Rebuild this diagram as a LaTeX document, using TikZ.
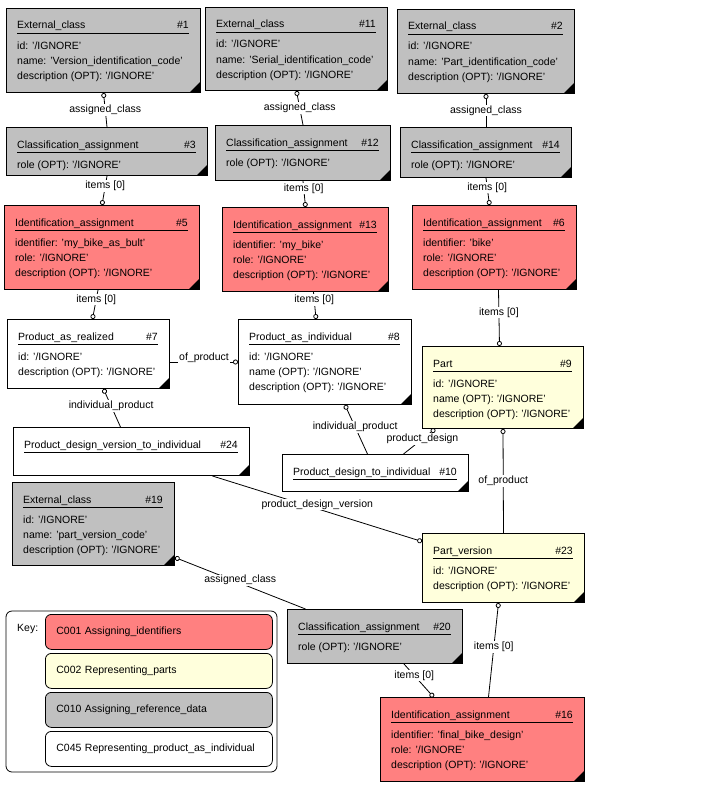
\documentclass[tikz,border=0pt]{standalone}
\usepackage{fontspec}
\setmainfont{Liberation Sans}
\usetikzlibrary{arrows.meta}
\definecolor{idred}{HTML}{FF8080}
\definecolor{partyel}{HTML}{FFFFDC}
\definecolor{refgray}{HTML}{C0C0C0}

% entity box: name, x, y, width, height, fill, title, number, attributes
\newcommand{\entity}[9]{%
  \node[ent, fill=#6, minimum width=#4pt, minimum height=#5pt] (#1) at (#2,#3) {};
  \node[anchor=base west] at ({#2+11},{#3+21}) {#7};
  \node[anchor=base east] at ({#2+#4-11},{#3+21}) {\##8};
  \draw[line width=0.9pt] ({#2+11},{#3+25}) -- ({#2+#4-11},{#3+25});
  \foreach \attr [count=\i from 0] in {#9}
    \node[anchor=base west] at ({#2+11},{#3+41+15.2*\i}) {\attr};
  \fill ({#2+#4},{#3+#5}) -- ++(-10,0) -- ++(10,-10) -- cycle;
}

\begin{document}
\begin{tikzpicture}[x=1pt,y=-1pt,
    every node/.style={font=\fontsize{10.5}{12}\selectfont, inner sep=0pt},
    ent/.style={draw, line width=1pt, anchor=north west},
    conn/.style={draw, line width=0.8pt, -{Circle[open,length=5pt,width=5pt]}},
    lbl/.style={fill=white, inner sep=0.8pt},
    keyent/.style={draw, line width=0.8pt, rounded corners=6pt, anchor=north west,
      minimum height=35pt, text width=205pt, inner xsep=11pt, align=left}]
\useasboundingbox (0,0) rectangle (702,808);

\entity{ec1}{6}{8}{194}{84}{refgray}{External\_class}{1}{id: '/IGNORE', name: 'Version\_identification\_code', description (OPT): '/IGNORE'}
\entity{ec11}{205}{7}{182}{83}{refgray}{External\_class}{11}{id: '/IGNORE', name: 'Serial\_identification\_code', description (OPT): '/IGNORE'}
\entity{ec2}{397}{9}{177}{84}{refgray}{External\_class}{2}{id: '/IGNORE', name: 'Part\_identification\_code', description (OPT): '/IGNORE'}
\entity{ca3}{6}{127}{201}{48}{refgray}{Classification\_assignment}{3}{role (OPT): '/IGNORE'}
\entity{ca12}{215}{125}{175}{55}{refgray}{Classification\_assignment}{12}{role (OPT): '/IGNORE'}
\entity{ca14}{400}{127}{171}{50}{refgray}{Classification\_assignment}{14}{role (OPT): '/IGNORE'}
\entity{ia5}{4}{205}{195}{84}{idred}{Identification\_assignment}{5}{identifier: 'my\_bike\_as\_bult', role: '/IGNORE', description (OPT): '/IGNORE'}
\entity{ia13}{222}{207}{166}{84}{idred}{Identification\_assignment}{13}{identifier: 'my\_bike', role: '/IGNORE', description (OPT): '/IGNORE'}
\entity{ia6}{412}{205}{164}{84}{idred}{Identification\_assignment}{6}{identifier: 'bike', role: '/IGNORE', description (OPT): '/IGNORE'}
\entity{pr7}{7}{319}{162}{69}{white}{Product\_as\_realized}{7}{id: '/IGNORE', description (OPT): '/IGNORE'}
\entity{pai8}{238}{319}{173}{85}{white}{Product\_as\_individual}{8}{id: '/IGNORE', name (OPT): '/IGNORE', description (OPT): '/IGNORE'}
\entity{part9}{422}{346}{161}{82}{partyel}{Part}{9}{id: '/IGNORE', name (OPT): '/IGNORE', description (OPT): '/IGNORE'}
\entity{pdvi24}{13}{427}{236}{48}{white}{Product\_design\_version\_to\_individual}{24}{}
\entity{pdi10}{282}{454}{186}{37}{white}{Product\_design\_to\_individual}{10}{}
\entity{ec19}{12}{482}{162}{83}{refgray}{External\_class}{19}{id: '/IGNORE', name: 'part\_version\_code', description (OPT): '/IGNORE'}
\entity{pv23}{422}{533}{162}{69}{partyel}{Part\_version}{23}{id: '/IGNORE', description (OPT): '/IGNORE'}
\entity{ca20}{287}{609}{175}{54}{refgray}{Classification\_assignment}{20}{role (OPT): '/IGNORE'}
\entity{ia16}{380}{697}{204}{84}{idred}{Identification\_assignment}{16}{identifier: 'final\_bike\_design', role: '/IGNORE', description (OPT): '/IGNORE'}

\draw[conn] (ca3.north) -- node[lbl]{assigned\_class} (ec1.south);
\draw[conn] (ca12.north) -- node[lbl]{assigned\_class} (ec11.south);
\draw[conn] (ca14.north) -- node[lbl]{assigned\_class} (ec2.south);
\draw[conn] (ca3.south) -- node[lbl,pos=0.35]{items [0]} (ia5.north);
\draw[conn] (ca12.south) -- node[lbl,pos=0.3]{items [0]} (ia13.north);
\draw[conn] (ca14.south) -- node[lbl,pos=0.35]{items [0]} ([xshift=-5pt]ia6.north);
\draw[conn] ([xshift=-4pt]ia5.south) -- node[lbl,pos=0.33]{items [0]} ([xshift=4pt]pr7.north);
\draw[conn] ([xshift=8pt]ia13.south) -- node[lbl,pos=0.3]{items [0]} ([xshift=-9pt]pai8.north);
\draw[conn] ([xshift=4pt]ia6.south) -- node[lbl,pos=0.4]{items [0]} ([xshift=-3.5pt]part9.north);
\draw[conn] (pr7.east |- pai8.west) -- node[lbl,yshift=4pt]{of\_product} (pai8.west);
\draw[conn] ([xshift=-11pt]pdvi24.north) -- node[lbl,pos=0.55]{individual\_product} ([xshift=15pt]pr7.south);
\draw[conn] ([xshift=-8pt]pdi10.north) -- node[lbl,pos=0.55]{individual\_product} ([xshift=20pt]pai8.south);
\draw[conn] ([xshift=28pt]pdi10.north) -- node[lbl,pos=0.6]{product\_design} ([xshift=-68pt]part9.south);
\draw[conn] ([xshift=81pt]pdvi24.south) -- node[lbl,yshift=4pt]{product\_design\_version} ([yshift=26.5pt]pv23.west);
\draw[conn] (pv23.north) -- node[lbl]{of\_product} (part9.south);
\draw[conn] ([xshift=-69.5pt]ca20.north) -- node[lbl,yshift=3pt]{assigned\_class} ([yshift=-33.5pt]ec19.east);
\draw[conn] ([xshift=29pt]ca20.south) -- node[lbl,pos=0.35]{items [0]} ([xshift=-49pt]ia16.north);
\draw[conn] ([xshift=6pt]ia16.north) -- node[lbl,pos=0.53]{items [0]} ([xshift=-5pt]pv23.south);

% key
\draw[line width=0.8pt, rounded corners=6pt] (6,611) rectangle (277,772);
\node[anchor=base west] (keylbl) at (17,631) {Key:};
\foreach \c/\t [count=\i] in {idred/C001 Assigning\_identifiers, partyel/C002 Representing\_parts,
    refgray/C010 Assigning\_reference\_data, white/C045 Representing\_product\_as\_individual}
  \node[keyent, fill=\c] (key\i) at (45,575+39*\i) {\t};
\end{tikzpicture}
\end{document}
